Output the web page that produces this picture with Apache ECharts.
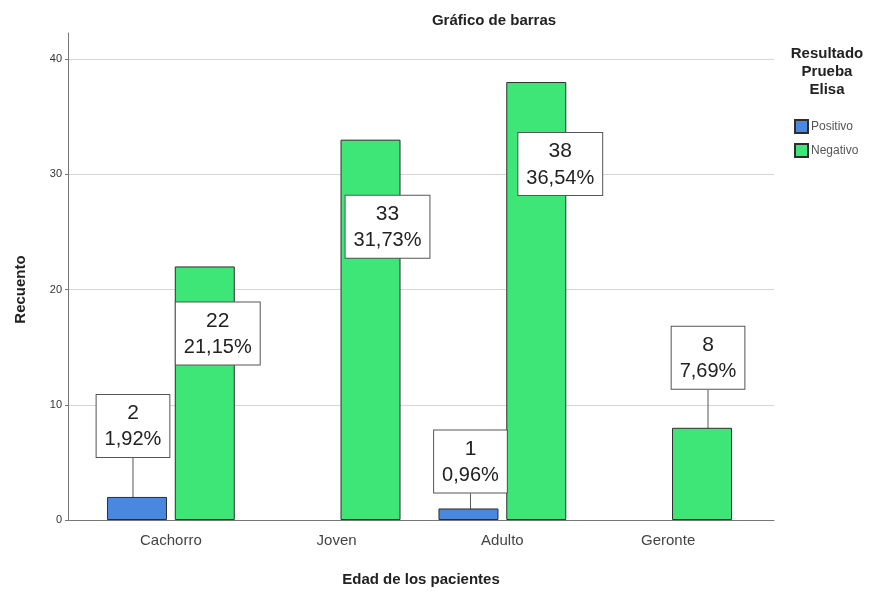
<!DOCTYPE html>
<html>
<head>
<meta charset="utf-8">
<script src="https://cdn.jsdelivr.net/npm/echarts@6/dist/echarts.min.js"></script>
<style>
html,body{margin:0;padding:0;background:#fff;}
#chart{width:879px;height:592px;}
</style>
</head>
<body>
<div id="chart"></div>
<script>
// Counts of Elisa test results by patient age group
var categories = ['Cachorro', 'Joven', 'Adulto', 'Geronte'];
var positivo = [2, null, 1, null];
var negativo = [22, 33, 38, 8];
var yTicks = [0, 10, 20, 30, 40];

var total = positivo.concat(negativo).reduce(function (s, v) { return s + (v || 0); }, 0);

// Where each value box sits relative to the top centre of its bar
var boxShift = {
  0: [[-3, -70], null, [3, -46], null],
  1: [[14, 68], [18, 88], [25, 83], [7, -69]]
};

function pct(v) {
  return (v / total * 100).toFixed(2).replace('.', ',') + '%';
}

function items(arr, s) {
  return arr.map(function (v, i) {
    if (v == null) return null;
    var shift = boxShift[s][i];
    var inside = shift[1] > 0;
    return { value: v, labelLine: { show: !inside } };
  });
}

var FONT = '"Liberation Sans", Arial, sans-serif';
var labelCfg = {
  show: true,
  position: 'top',
  formatter: function (p) { return '{v|' + p.value + '}\n{p|' + pct(p.value) + '}'; },
  backgroundColor: '#fff',
  borderColor: '#555',
  borderWidth: 1,
  padding: [5, 8, 4, 8],
  rich: {
    v: { fontSize: 21, lineHeight: 27, color: '#222', fontFamily: FONT, align: 'center' },
    p: { fontSize: 20, lineHeight: 26, color: '#222', fontFamily: FONT, align: 'center' }
  }
};

function layoutFor(s) {
  return function (params) {
    var r = params.rect;
    var sh = boxShift[s][params.dataIndex];
    if (!sh) return {};
    var cx = r.x + r.width / 2;
    var top = Math.min(r.y, r.y + r.height);
    var lr = params.labelRect;
    return {
      x: cx + sh[0] - lr.width / 2,
      y: top + sh[1] - lr.height / 2,
      align: 'left',
      verticalAlign: 'top'
    };
  };
}

var chart = echarts.init(document.getElementById('chart'), null, { renderer: 'canvas' });

chart.setOption({
  backgroundColor: '#fff',
  animation: false,
  title: [
    { text: 'Gráfico de barras', left: 489, top: 8, textAlign: 'center',
      textStyle: { fontSize: 15, fontWeight: 'bold', color: '#222', fontFamily: FONT } },
    { text: 'Resultado\nPrueba\nElisa', left: 822, top: 40, textAlign: 'center',
      textStyle: { fontSize: 15, fontWeight: 'bold', color: '#222', fontFamily: FONT, lineHeight: 18 } }
  ],
  legend: {
    orient: 'vertical',
    left: 789,
    top: 114,
    itemWidth: 13,
    itemHeight: 13,
    itemGap: 9,
    icon: 'rect',
    textStyle: { fontSize: 12, color: '#555', fontFamily: FONT, padding: [0, 0, 0, -2] },
    data: ['Positivo', 'Negativo']
  },
  grid: [
    { left: 68, width: 706, top: 59, height: 461, outerBoundsMode: 'none' },
    { left: 68, width: 706, top: 33, height: 487, outerBoundsMode: 'none' },
    { left: 88, width: 663, top: 59, height: 461, outerBoundsMode: 'none' }
  ],
  xAxis: [
    { gridIndex: 0, type: 'value', min: 0, max: 1,
      axisLine: { show: true, lineStyle: { color: '#777', width: 1 } },
      axisTick: { show: false }, axisLabel: { show: false }, splitLine: { show: false },
      name: 'Edad de los pacientes', nameLocation: 'middle', nameGap: 52,
      nameTextStyle: { fontSize: 15, fontWeight: 'bold', color: '#222', fontFamily: FONT } },
    { gridIndex: 1, type: 'value', min: 0, max: 1, show: false },
    { gridIndex: 2, type: 'category', data: categories,
      axisLine: { show: false }, axisTick: { show: false },
      axisLabel: { fontSize: 15, color: '#444', fontFamily: FONT, margin: 13 } }
  ],
  yAxis: [
    { gridIndex: 0, type: 'value', min: yTicks[0], max: yTicks[yTicks.length - 1], interval: 10,
      axisLine: { show: false },
      axisTick: { show: true, length: 3, lineStyle: { color: '#777' } },
      axisLabel: { fontSize: 11, color: '#333', fontFamily: FONT, margin: 6 },
      splitLine: { show: true, lineStyle: { color: '#d6d6d6', width: 1 } },
      name: 'Recuento', nameLocation: 'middle', nameGap: 40, nameRotate: 90,
      nameTextStyle: { fontSize: 15, fontWeight: 'bold', color: '#222', fontFamily: FONT } },
    { gridIndex: 1, type: 'value', min: 0, max: 42.3,
      axisLine: { show: true, lineStyle: { color: '#777', width: 1 } },
      axisTick: { show: false }, axisLabel: { show: false }, splitLine: { show: false } },
    { gridIndex: 2, type: 'value', min: yTicks[0], max: yTicks[yTicks.length - 1], show: false }
  ],
  series: [
    {
      name: 'Positivo', type: 'bar', xAxisIndex: 2, yAxisIndex: 2,
      data: items(positivo, 0),
      barWidth: 60, barGap: '13%',
      itemStyle: { color: '#4a88e0', borderColor: '#2d2d2d', borderWidth: 1 },
      label: labelCfg,
      labelLine: { show: true, lineStyle: { color: '#555', width: 1 } },
      labelLayout: layoutFor(0)
    },
    {
      name: 'Negativo', type: 'bar', xAxisIndex: 2, yAxisIndex: 2,
      data: items(negativo, 1),
      barWidth: 60, barGap: '13%',
      itemStyle: { color: '#3de676', borderColor: '#2d2d2d', borderWidth: 1 },
      label: labelCfg,
      labelLine: { show: true, lineStyle: { color: '#555', width: 1 } },
      labelLayout: layoutFor(1)
    }
  ]
});
</script>
</body>
</html>
